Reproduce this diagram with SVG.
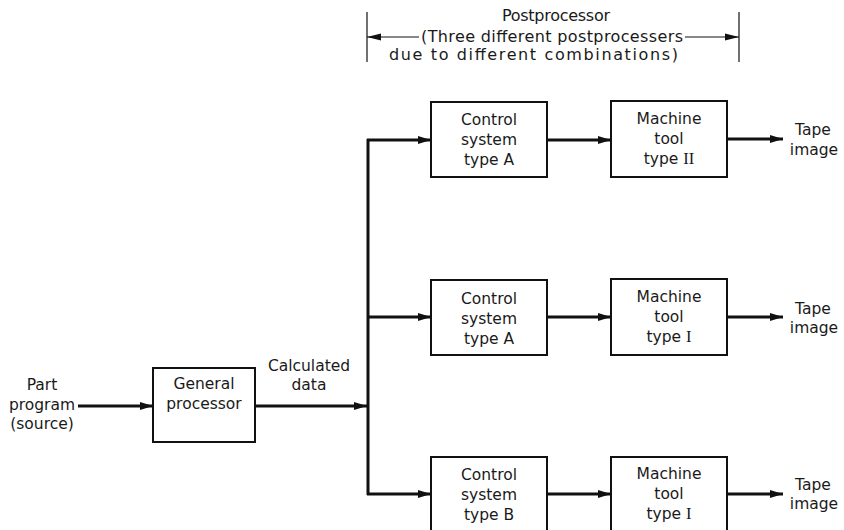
<svg xmlns="http://www.w3.org/2000/svg" width="844" height="530" viewBox="0 0 844 530">
  <defs>
    <style>
      .box { fill: #fff; stroke: #111; stroke-width: 2; }
      .flow { fill: none; stroke: #111; stroke-width: 3; }
      .dim { fill: none; stroke: #111; stroke-width: 1.2; }
      text { font-family: "DejaVu Sans", "Liberation Sans", sans-serif; font-size: 15.5px; fill: #1a1a1a; text-anchor: middle; }
      .span-note { text-anchor: start; font-size: 16px; }
      .roman { font-family: "Liberation Serif", "DejaVu Serif", serif; font-size: 16.5px; }
    </style>
    <marker id="arrow" viewBox="0 0 13 8" refX="13" refY="4" markerWidth="13" markerHeight="8" markerUnits="userSpaceOnUse" orient="auto">
      <path d="M0,0 L13,4 L0,8 Z" fill="#111"/>
    </marker>
    <marker id="arrowThin" viewBox="0 0 14 8" refX="14" refY="4" markerWidth="14" markerHeight="8" markerUnits="userSpaceOnUse" orient="auto">
      <path d="M0,0.5 L14,4 L0,7.5 Z" fill="#111"/>
    </marker>
  </defs>

  <!-- Postprocessor span annotation -->
  <g id="postprocessor-span">
    <line class="dim" x1="367" y1="12" x2="367" y2="62"/>
    <line class="dim" x1="739" y1="12" x2="739" y2="62"/>
    <line class="dim" x1="419" y1="37" x2="367" y2="37" marker-end="url(#arrowThin)"/>
    <line class="dim" x1="685" y1="37" x2="739" y2="37" marker-end="url(#arrowThin)"/>
    <text class="span-note" x="502" y="21" textLength="108" lengthAdjust="spacing">Postprocessor</text>
    <text class="span-note" x="421" y="42" textLength="262" lengthAdjust="spacing">(Three different postprocessers</text>
    <text class="span-note" x="389" y="60" textLength="289" lengthAdjust="spacing">due to different combinations)</text>
  </g>

  <!-- Connectors -->
  <g id="connectors">
    <line class="flow" x1="78" y1="406" x2="153" y2="406" marker-end="url(#arrow)"/>
    <line class="flow" x1="255" y1="406" x2="367" y2="406" marker-end="url(#arrow)"/>
    <line class="flow" x1="368" y1="139" x2="368" y2="495"/>
    <line class="flow" x1="367" y1="140" x2="431" y2="140" marker-end="url(#arrow)"/>
    <line class="flow" x1="367" y1="317" x2="431" y2="317" marker-end="url(#arrow)"/>
    <line class="flow" x1="367" y1="494" x2="431" y2="494" marker-end="url(#arrow)"/>
    <line class="flow" x1="547" y1="140" x2="611" y2="140" marker-end="url(#arrow)"/>
    <line class="flow" x1="547" y1="317" x2="611" y2="317" marker-end="url(#arrow)"/>
    <line class="flow" x1="547" y1="494" x2="611" y2="494" marker-end="url(#arrow)"/>
    <line class="flow" x1="727" y1="139" x2="783" y2="139" marker-end="url(#arrow)"/>
    <line class="flow" x1="727" y1="317" x2="783" y2="317" marker-end="url(#arrow)"/>
    <line class="flow" x1="727" y1="494" x2="783" y2="494" marker-end="url(#arrow)"/>
  </g>

  <!-- Input / intermediate labels -->
  <g id="part-program">
    <text x="42" y="390">Part</text>
    <text x="42" y="410">program</text>
    <text x="42" y="429">(source)</text>
  </g>
  <g id="calculated-data">
    <text x="309" y="371">Calculated</text>
    <text x="309" y="390">data</text>
  </g>

  <!-- General processor -->
  <g id="general-processor">
    <rect class="box" x="153" y="368" width="102" height="74"/>
    <text x="204" y="389">General</text>
    <text x="204" y="409">processor</text>
  </g>

  <!-- Row 1 -->
  <g id="control-a-1">
    <rect class="box" x="431" y="102" width="116" height="75"/>
    <text x="489" y="125">Control</text>
    <text x="489" y="145">system</text>
    <text x="489" y="165">type A</text>
  </g>
  <g id="machine-ii">
    <rect class="box" x="611" y="101" width="116" height="76"/>
    <text x="669" y="124">Machine</text>
    <text x="669" y="144">tool</text>
    <text x="669" y="164">type <tspan class="roman">II</tspan></text>
  </g>
  <g id="tape-1">
    <text x="813" y="135">Tape</text>
    <text x="814" y="155">image</text>
  </g>

  <!-- Row 2 -->
  <g id="control-a-2">
    <rect class="box" x="431" y="280" width="116" height="75"/>
    <text x="489" y="304">Control</text>
    <text x="489" y="324">system</text>
    <text x="489" y="344">type A</text>
  </g>
  <g id="machine-i-2">
    <rect class="box" x="611" y="279" width="116" height="76"/>
    <text x="669" y="302">Machine</text>
    <text x="669" y="322">tool</text>
    <text x="669" y="342">type <tspan class="roman">I</tspan></text>
  </g>
  <g id="tape-2">
    <text x="813" y="314">Tape</text>
    <text x="814" y="333">image</text>
  </g>

  <!-- Row 3 -->
  <g id="control-b">
    <rect class="box" x="431" y="457" width="116" height="76"/>
    <text x="489" y="480">Control</text>
    <text x="489" y="500">system</text>
    <text x="489" y="520">type B</text>
  </g>
  <g id="machine-i-3">
    <rect class="box" x="611" y="457" width="116" height="76"/>
    <text x="669" y="479">Machine</text>
    <text x="669" y="499">tool</text>
    <text x="669" y="519">type <tspan class="roman">I</tspan></text>
  </g>
  <g id="tape-3">
    <text x="813" y="490">Tape</text>
    <text x="814" y="509">image</text>
  </g>
</svg>
